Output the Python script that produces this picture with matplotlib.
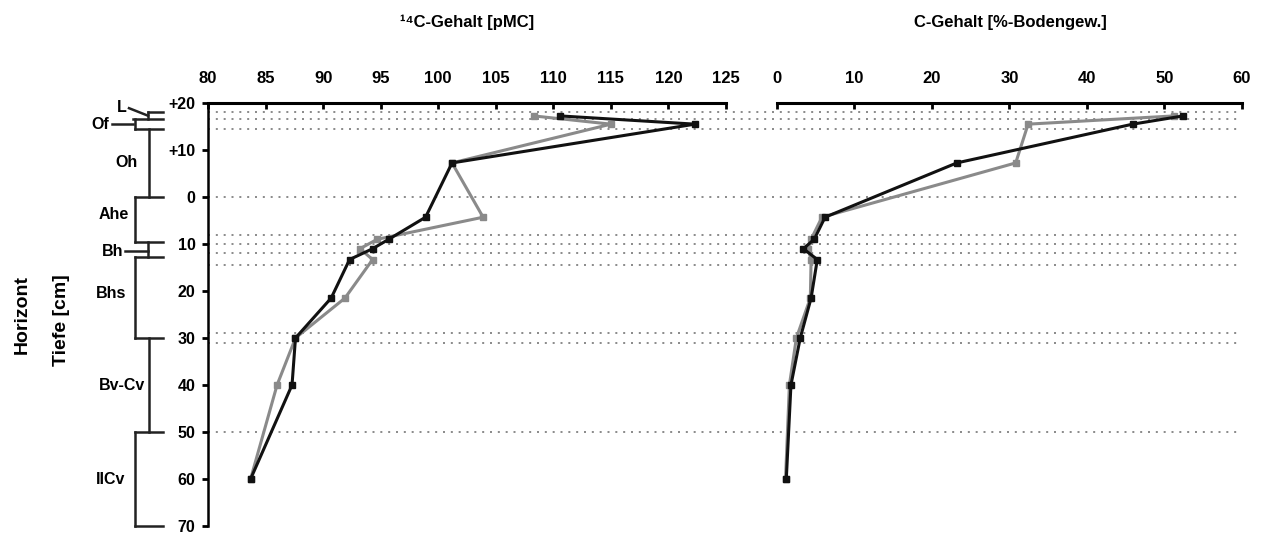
import matplotlib
matplotlib.use("Agg")
import matplotlib.pyplot as plt
import numpy as np

plt.rcParams['font.family'] = ['Liberation Sans', 'DejaVu Sans']
plt.rcParams['font.weight'] = 'bold'

# depths of the samples (cm, negative = above mineral soil)
depth = [-17.25, -15.5, -7.25, 4.3, 9, 11, 13.3, 21.5, 30, 40, 60]

# 14C content [pMC]
c14_black = [110.6, 122.3, 101.2, 98.9, 95.7, 94.3, 92.3, 90.7, 87.6, 87.3, 83.7]
c14_gray = [108.3, 115.0, 101.2, 103.9, 94.7, 93.2, 94.3, 91.9, 87.6, 86.0, 83.7]

# C content [% soil weight]
c_black = [52.4, 45.9, 23.2, 6.2, 4.8, 3.4, 5.2, 4.4, 3.0, 1.8, 1.2]
c_gray = [51.2, 32.4, 30.8, 5.8, 4.4, 4.0, 4.4, 4.3, 2.5, 1.6, 1.1]

# dotted horizon boundaries
boundaries = [-18, -16.5, -14.5, 0, 8, 10, 12, 14.5, 29, 31, 50]

depth_ticks = [-20, -10, 0, 10, 20, 30, 40, 50, 60, 70]
depth_labels = ['+20', '+10', '0', '10', '20', '30', '40', '50', '60', '70']

BLACK = '#111111'
GRAY = '#8a8a8a'
W, H = 1264, 538

fig = plt.figure(figsize=(W / 100, H / 100), dpi=100)

bottom = 1 - 526 / H
height = (526 - 103) / H
ax1 = fig.add_axes([208 / W, bottom, (726 - 208) / W, height])
ax2 = fig.add_axes([777 / W, bottom, (1242 - 777) / W, height])
ax2.patch.set_visible(False)


def style(ax, xmin, xmax, step):
    ax.set_xlim(xmin, xmax)
    ax.set_ylim(70, -20)
    ax.xaxis.tick_top()
    ax.set_xticks(np.arange(xmin, xmax + 1, step))
    ax.tick_params(axis='x', direction='in', length=4, width=2, pad=12,
                   labelsize=12)
    for s in ['right', 'bottom']:
        ax.spines[s].set_visible(False)
    ax.spines['top'].set_linewidth(2.2)
    ax.spines['left'].set_linewidth(1.8)


style(ax1, 80, 125, 5)
style(ax2, 0, 60, 10)

ax1.set_yticks(depth_ticks)
ax1.set_yticklabels(depth_labels)
ax1.tick_params(axis='y', direction='out', length=4, width=2, labelsize=11.5, pad=5)

ax2.spines['left'].set_visible(False)
ax2.set_yticks([])

# dotted lines through both panels
span = (1242 - 208) / (726 - 208)
for b in boundaries:
    ax1.axhline(b, xmin=0, xmax=span, color='#777777', lw=1.2,
                ls=(0, (1.2, 3.5)), clip_on=False, zorder=1)

ax1.plot(c14_gray, depth, color=GRAY, lw=2.2, marker='s', ms=5, zorder=3)
ax1.plot(c14_black, depth, color=BLACK, lw=2.2, marker='s', ms=5, zorder=4)
ax2.plot(c_gray, depth, color=GRAY, lw=2.2, marker='s', ms=5, zorder=3)
ax2.plot(c_black, depth, color=BLACK, lw=2.2, marker='s', ms=5, zorder=4)

fig.text(467 / W, 1 - 22 / H, '¹⁴C-Gehalt [pMC]', ha='center', va='center',
         fontsize=12, fontweight='bold')
fig.text(1010 / W, 1 - 22 / H, 'C-Gehalt [%-Bodengew.]', ha='center', va='center',
         fontsize=12, fontweight='bold')

# horizon diagram (x in pixels, y in depth)
hax = fig.add_axes([0, bottom, 208 / W, height])
hax.set_xlim(0, 208)
hax.set_ylim(70, -20)
hax.axis('off')

kw = dict(color='#222222', lw=1.8, clip_on=False)
# horizontal ticks
for d in [-14.5, 0, 9.5, 12.8, 30, 50, 70]:
    hax.plot([135, 163], [d, d], **kw)
hax.plot([133, 163], [-16.6, -16.6], **kw)
hax.plot([148, 163], [-18.1, -18.1], **kw)
# vertical brackets
hax.plot([148, 148], [-18.1, -16.6], **kw)
hax.plot([135, 135], [-16.6, -14.5], **kw)
hax.plot([149, 149], [-14.5, 0], **kw)
hax.plot([135, 135], [0, 9.5], **kw)
hax.plot([148, 148], [9.5, 12.8], **kw)
hax.plot([135, 135], [12.8, 30], **kw)
hax.plot([149, 149], [30, 50], **kw)
hax.plot([135, 135], [50, 70], **kw)
# leader lines
hax.plot([129, 148], [-18.9, -17.3], **kw)
hax.plot([112, 133], [-15.5, -15.5], **kw)
hax.plot([125, 148], [11.5, 11.5], **kw)

tk = dict(fontsize=11.5, fontweight='bold', va='center')
hax.text(117, -19.1, 'L', ha='left', **tk)
hax.text(109, -15.5, 'Of', ha='right', **tk)
hax.text(138, -7.3, 'Oh', ha='right', **tk)
hax.text(129, 3.8, 'Ahe', ha='right', **tk)
hax.text(123, 11.5, 'Bh', ha='right', **tk)
hax.text(126, 20.5, 'Bhs', ha='right', **tk)
hax.text(145, 40, 'Bv-Cv', ha='right', **tk)
hax.text(125, 60, 'IICv', ha='right', **tk)

fig.text(22 / W, 1 - 315 / H, 'Horizont', rotation=90, ha='center', va='center',
         fontsize=14, fontweight='bold')
fig.text(62 / W, 1 - 320 / H, 'Tiefe [cm]', rotation=90, ha='center', va='center',
         fontsize=14, fontweight='bold')

fig.savefig('out.png', dpi=100)
